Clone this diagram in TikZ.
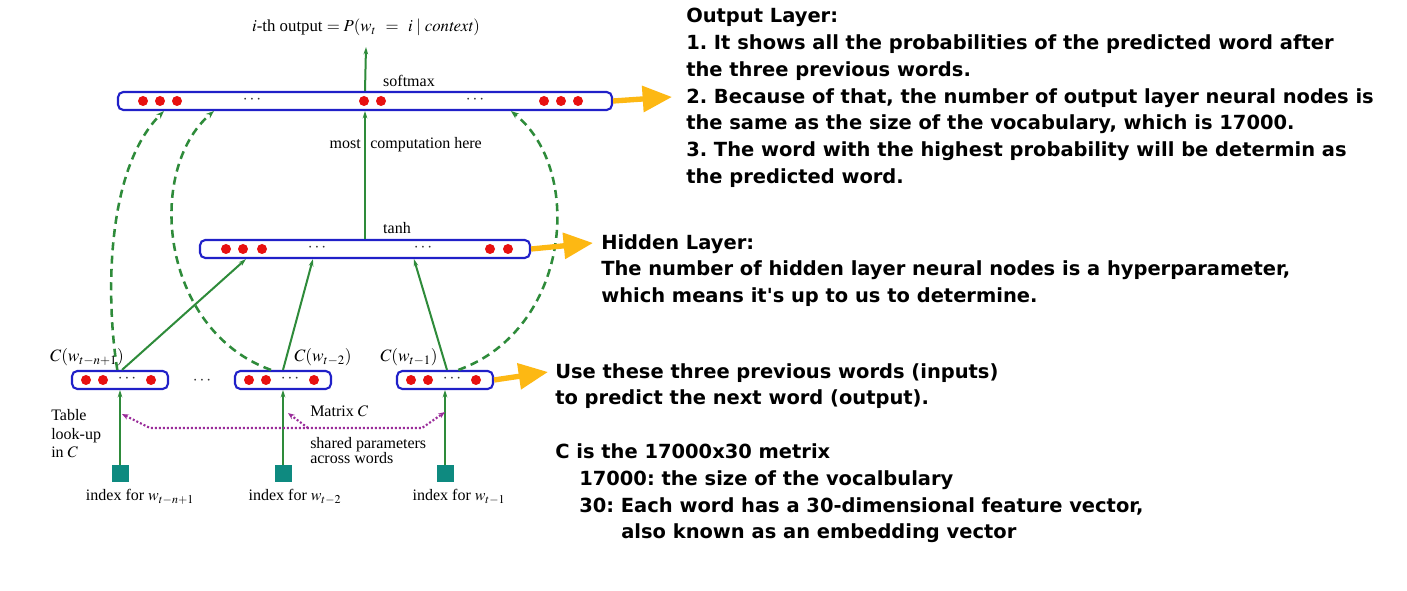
\documentclass[tikz,border=0pt]{standalone}
\usepackage{mathptmx}
\usepackage{fontspec}
\setmainfont{Liberation Serif}
\newfontfamily\notefont{DejaVu Sans}
\usetikzlibrary{arrows.meta,positioning,calc}
\definecolor{layerblue}{HTML}{2020C8}
\definecolor{unitred}{HTML}{E81010}
\definecolor{linkgreen}{HTML}{2E8B3A}
\definecolor{indexteal}{HTML}{0E8A80}
\definecolor{sharedpurple}{HTML}{9A2C9A}
\definecolor{noteorange}{HTML}{FDB813}
\definecolor{dotgray}{HTML}{333333}
\frenchspacing

\tikzset{
  layerbox/.style={draw=layerblue, line width=1.6pt, rounded corners=4pt, minimum height=13.5pt, inner sep=0pt},
  unitdot/.style={circle, fill=unitred, minimum size=7.5pt, inner sep=0pt},
  dotsl/.style={text=dotgray, inner sep=0pt, font=\fontsize{13}{14}\selectfont},
  idxsq/.style={fill=indexteal, minimum size=12.75pt, inner sep=0pt},
  feedlink/.style={draw=linkgreen, line width=1.5pt, -{Stealth[length=5.5pt,width=3.5pt]}},
  directlink/.style={draw=linkgreen, line width=1.9pt, dash pattern=on 6pt off 4pt, -{Stealth[length=6pt,width=4.5pt]}},
  sharedline/.style={draw=sharedpurple, line width=1.6pt, dash pattern=on 1.5pt off 1.5pt},
  notearrow/.style={draw=noteorange, line width=4pt, -{Triangle[length=22pt,width=19pt]}},
  lbl/.style={font=\fontsize{12}{14}\selectfont, inner sep=0pt},
  clbl/.style={font=\fontsize{13}{15}\selectfont, inner sep=0pt, anchor=base},
  notetext/.style={font=\notefont\bfseries\fontsize{14.6}{20.1}\selectfont, align=left, anchor=north west, inner sep=0pt},
}

\begin{document}
\begin{tikzpicture}[x=0.75pt,y=-0.75pt]
\useasboundingbox[fill=white] (0,0) rectangle (1407,591);

% layers
\node[layerbox, minimum width=370.5pt] (outl) at (365,101) {};
\node[layerbox, minimum width=247.5pt] (hid) at (365,249) {};
\foreach \x in {143,160,177,364,381,544,561,578} \node[unitdot] (o\x) at (\x,101) {};
\foreach \x in {252,475} \node[dotsl] (od\x) at (\x,100) {$\cdots$};
\foreach \x in {226,243,262,490,508} \node[unitdot] (h\x) at (\x,249) {};
\foreach \x in {317,423} \node[dotsl] (hd\x) at (\x,248) {$\cdots$};

\foreach \n/\cx in {1/120,2/283,3/445} {
  \node[layerbox, minimum width=72pt] (in\n) at (\cx,380) {};
  \foreach \dx in {-34,-17,31} \node[unitdot] (u\n\dx) at (\cx+\dx,380) {};
  \node[dotsl] (d\n) at (\cx+7,379) {$\cdots$};
  \node[idxsq] (sq\n) at (\cx,474) {};
  \draw[feedlink] (sq\n) -- (in\n);
}
\node[dotsl] (gap) at (202,381) {$\cdots$};

% labels
\node[lbl, anchor=base, font=\fontsize{12.6}{14}\selectfont] (title) at (366,32) {$i$-th output $=P(w_t\;\,=\;\,i\mid \mathit{context})$};
\node[lbl, anchor=base] (smx) at (409,87) {softmax};
\node[lbl, anchor=base east] (most) at (361,149) {most};
\node[lbl, anchor=base west] (comp) at (370,149) {computation here};
\node[lbl, anchor=base] (tanh) at (397,234) {tanh};
\node[clbl] (c1) at (87,362) {$C(w_{t-n+1})$};
\node[clbl] (c2) at (323,362) {$C(w_{t-2})$};
\node[clbl] (c3) at (409,362) {$C(w_{t-1})$};
\node[lbl, align=left, anchor=north west] (look) at (51,409) {Table\\look-up\\in $C$};
\node[lbl, anchor=base west] (mat) at (310,417) {Matrix $C$};
\node[lbl, align=left, anchor=north west, font=\fontsize{12}{11.5}\selectfont] (shp) at (310,437) {shared parameters\\across words};
\node[lbl, anchor=base] (i1) at (140,501) {index for $w_{t-n+1}$};
\node[lbl, anchor=base] (i2) at (295,501) {index for $w_{t-2}$};
\node[lbl, anchor=base] (i3) at (459,501) {index for $w_{t-1}$};

% connections
\draw[feedlink] (hid) -- (outl);
\draw[feedlink] (outl.north) -- ([yshift=-8pt]title.south);
\draw[feedlink] ([xshift=1.5pt]in1.north) -- ($(hid.south west)+(47,0)$);
\draw[feedlink] (in2.north) -- ($(hid.south west)+(114,0)$);
\draw[feedlink] ([xshift=1.5pt]in3.north) -- ($(hid.south west)+(215,0)$);

\draw[directlink] ([xshift=-2pt]in1.north) .. controls (106,300) and (105,170) .. ($(outl.south west)+(47,0)$);
\draw[directlink] ([xshift=-9pt]in2.north) .. controls (160,330) and (145,170) .. ($(outl.south west)+(97,0)$);
\draw[directlink] ([xshift=10pt]in3.north) .. controls (570,330) and (585,170) .. ($(outl.south west)+(394,0)$);

\coordinate (t1) at ($(in1.south)+(2,24)$);
\coordinate (t2) at ($(in2.south)+(5,23)$);
\coordinate (t3) at ($(in3.south)+(0,22)$);
\coordinate (h1) at (150,428);
\coordinate (h2) at (422,428);
\coordinate (hm) at (308,428);
\draw[sharedline, {Stealth[length=5pt,width=4pt]}-{Stealth[length=5pt,width=4pt]}] (t1) -- (h1) -- (h2) -- (t3);
\draw[sharedline, -{Stealth[length=5pt,width=4pt]}] (hm) -- (t2);

% notes
\coordinate (n1) at (672,97);
\coordinate (n2) at (593,243);
\coordinate (n3) at (548,372);
\draw[notearrow] (outl.east) -- (n1);
\draw[notearrow] (hid.east) -- (n2);
\draw[notearrow] (in3.east) -- (n3);

\node[notetext] (outnote) at (686,8) {Output Layer:\\
1. It shows all the probabilities of the predicted word after\\
the three previous words.\\
2. Because of that, the number of output layer neural nodes is\\
the same as the size of the vocabulary, which is 17000.\\
3. The word with the highest probability will be determin as\\
the predicted word.};
\node[notetext] (hidnote) at (601,234) {Hidden Layer:\\
The number of hidden layer neural nodes is a hyperparameter,\\
which means it's up to us to determine.};
\node[notetext] (innote) at (555,363) {Use these three previous words (inputs)\\
to predict the next word (output).\\[20.1pt]
C is the 17000x30 metrix\\
\hspace*{18pt}17000: the size of the vocalbulary\\
\hspace*{18pt}30: Each word has a 30-dimensional feature vector,\\
\hspace*{49.5pt}also known as an embedding vector};
\end{tikzpicture}
\end{document}
